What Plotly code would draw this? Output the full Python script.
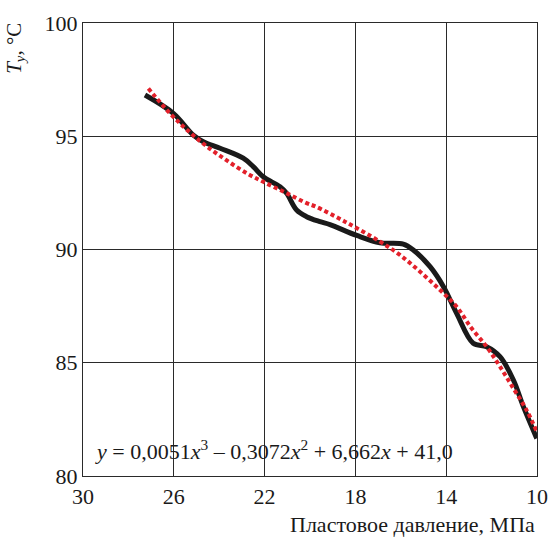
import plotly.graph_objects as go

# Measured curve (black)
x_meas = [27.27, 26.02, 25.14, 24.7, 23.96, 22.94, 22.5, 22.06, 21.32, 21.03, 20.59, 20.15,
          19.56, 19.12, 17.94, 16.92, 15.89, 15.45, 14.71, 14.12, 13.54, 12.81, 12.22,
          11.63, 11.04, 10.6, 10.01]
y_meas = [96.82, 96.01, 95.05, 94.76, 94.47, 94.03, 93.66, 93.21, 92.77, 92.48, 91.74, 91.45,
          91.23, 91.1, 90.62, 90.3, 90.24, 89.98, 89.24, 88.36, 87.18, 85.86, 85.71,
          85.27, 84.24, 83.06, 81.66]

# Trend line (red dotted)
x_trend = [27.12, 26.17, 25.36, 24.53, 23.65, 22.72, 22.06, 21.08, 20.15, 19.74, 18.46,
           16.92, 16.04, 15.15, 14.27, 13.54, 12.88, 12.22, 11.63, 11.04, 10.46, 10.01]
y_trend = [97.11, 96.01, 95.23, 94.54, 93.92, 93.33, 92.99, 92.51, 92.05, 91.89, 91.23,
           90.35, 89.76, 89.02, 88.21, 87.47, 86.52, 85.71, 84.83, 83.87, 82.91, 81.96]

x_ticks = [30, 26, 22, 18, 14, 10]
y_ticks = [80, 85, 90, 95, 100]

FONT = "Liberation Serif, Times New Roman, serif"
FS = 22

fig = go.Figure()
fig.add_trace(go.Scatter(x=x_meas, y=y_meas, mode="lines",
                         line=dict(color="#1a1a1a", width=5, shape="spline", smoothing=1.0),
                         showlegend=False, hoverinfo="skip"))
fig.add_trace(go.Scatter(x=x_trend, y=y_trend, mode="lines",
                         line=dict(color="#e3202a", width=4, dash="4px,3px", shape="spline"),
                         showlegend=False, hoverinfo="skip"))

axis_common = dict(ticks="", showgrid=True, gridcolor="#2a2a2a", gridwidth=1.3,
                   showline=True, linecolor="#2a2a2a", linewidth=1.3, mirror=True,
                   zeroline=False, automargin=False,
                   tickfont=dict(family=FONT, size=FS, color="#1a1a1a"))

fig.update_layout(
    width=551, height=544,
    margin=dict(l=83, r=14, t=23, b=68),
    paper_bgcolor="white", plot_bgcolor="white",
    font=dict(family=FONT, size=FS, color="#1a1a1a"),
    xaxis=dict(range=[30, 10], tickvals=x_ticks, **axis_common),
    yaxis=dict(range=[80, 100], tickvals=y_ticks, **axis_common),
)

fig.add_annotation(xref="paper", yref="paper", x=1.0, y=-0.107, xanchor="right", yanchor="middle",
                   text="Пластовое давление, МПа", showarrow=False,
                   font=dict(family=FONT, size=FS, color="#1a1a1a"))
fig.add_annotation(xref="paper", yref="paper", x=-0.15, y=0.945, xanchor="center", yanchor="middle",
                   text="<i>T</i><sub><i>y</i></sub>, °C", textangle=-90, showarrow=False,
                   font=dict(family=FONT, size=21, color="#1a1a1a"))
fig.add_annotation(xref="paper", yref="paper", x=0.022, y=0.057, xanchor="left", yanchor="middle",
                   text="<i>y</i> = 0,0051<i>x</i><sup>3</sup> – 0,3072<i>x</i><sup>2</sup> + 6,662<i>x</i> + 41,0",
                   showarrow=False,
                   font=dict(family=FONT, size=FS, color="#1a1a1a"))

fig.write_html("out.html", config={"displayModeBar": False},
               post_script="document.body.style.margin='0';")
